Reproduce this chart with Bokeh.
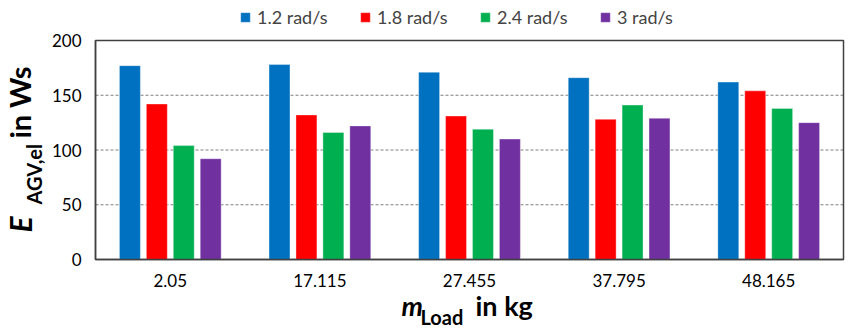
import math
from bokeh.plotting import figure
from bokeh.models import (ColumnDataSource, Range1d, FixedTicker, Legend, LegendItem, Label)
from bokeh.transform import dodge
from bokeh.embed import file_html
from bokeh.resources import INLINE

# ---- data ----
loads = ["2.05", "17.115", "27.455", "37.795", "48.165"]
series_names = ["1.2 rad/s", "1.8 rad/s", "2.4 rad/s", "3 rad/s"]
e_12 = [177, 178, 171, 166, 162]
e_18 = [142, 132, 131, 128, 154]
e_24 = [104, 116, 119, 141, 138]
e_30 = [92, 122, 110, 129, 125]
y_ticks = [0, 50, 100, 150, 200]

colors = ["#0070C0", "#FF0000", "#00B050", "#7030A0"]
FONT = "Lato"
AX = "#404040"

n = len(loads)
centers = [i + 0.5 for i in range(n)]
src = ColumnDataSource(dict(xc=centers, s12=e_12, s18=e_18, s24=e_24, s30=e_30))

# page geometry of the plotting box (pixels) -> ranges covering the whole canvas
W, H = 859, 328
L_PX, R_PX, T_PX, B_PX = 95, 843, 40, 259
ymin, ymax = y_ticks[0], y_ticks[-1]
sx = (R_PX - L_PX) / n
sy = (B_PX - T_PX) / (ymax - ymin)
x_range = Range1d(-L_PX / sx, (W - L_PX) / sx)
y_range = Range1d(ymin - (H - B_PX) / sy, ymin + B_PX / sy)

p = figure(width=W, height=H, x_range=x_range, y_range=y_range,
           output_backend="svg", toolbar_location=None, min_border=0)
p.outline_line_color = None
p.xgrid.visible = False
p.ygrid.visible = False

# dashed gridlines and plot box
p.segment(x0=0, x1=n, y0=y_ticks[1:-1], y1=y_ticks[1:-1], line_color="#7f7f7f",
          line_dash="3 2", line_width=1)
p.quad(left=0, right=n, bottom=ymin, top=ymax, fill_color=None, line_color=AX, line_width=1.5)

offsets = [-0.27, -0.09, 0.09, 0.27]
cols = ["s12", "s18", "s24", "s30"]
renderers = []
for c, off, col in zip(cols, offsets, colors):
    r = p.vbar(x=dodge("xc", off), top=c, width=0.14, source=src,
               fill_color=col, line_color="white", line_alpha=0.35, line_width=1)
    renderers.append(r)

# axes fixed at the plot box edges
p.yaxis.ticker = FixedTicker(ticks=y_ticks)
p.yaxis.fixed_location = 0
p.yaxis.bounds = (ymin, ymax)
p.xaxis.ticker = FixedTicker(ticks=centers)
p.xaxis.major_label_overrides = {c: lbl for c, lbl in zip(centers, loads)}
p.xaxis.fixed_location = ymin
p.xaxis.bounds = (0, n)
for ax in (p.xaxis[0], p.yaxis[0]):
    ax.major_tick_line_color = None
    ax.minor_tick_line_color = None
    ax.axis_line_color = AX
    ax.axis_line_width = 1.5
    ax.major_label_text_font = FONT
    ax.major_label_text_font_size = "17px"
    ax.major_label_text_color = "#000000"
    ax.major_label_standoff = 8

# legend
legend = Legend(items=[LegendItem(label=s, renderers=[r]) for s, r in zip(series_names, renderers)],
                orientation="horizontal", location=(239, H - 28), padding=0, margin=0,
                spacing=20, glyph_width=12, glyph_height=12, label_standoff=6,
                label_width=82, label_text_font=FONT, label_text_font_size="18px",
                border_line_color=None, background_fill_alpha=0)
p.add_layout(legend, "center")

def dx(px):
    return (px - L_PX) / sx
def dy(py):
    return ymin + (B_PX - py) / sy

def lab(text, px, py, size, italic=False, angle=0.0):
    p.add_layout(Label(x=dx(px), y=dy(py), text=text, text_font=FONT, text_font_size=size,
                       text_font_style="bold italic" if italic else "bold",
                       text_align="left", text_baseline="alphabetic", angle=angle,
                       text_color="#000000"))

# x title: m_Load in kg
lab("m", 401, 305, "27px", italic=True)
lab("Load", 420, 316, "20px")
lab("in kg", 475, 305, "27px")

# y title: E_AGV,el in Ws (rotated)
a = math.pi / 2
lab("E", 19, 232, "30px", italic=True, angle=a)
lab("AGV,el", 33, 204, "20px", angle=a)
lab("in Ws", 19, 138, "29px", angle=a)

open("out.html", "w").write(file_html(p, INLINE))
